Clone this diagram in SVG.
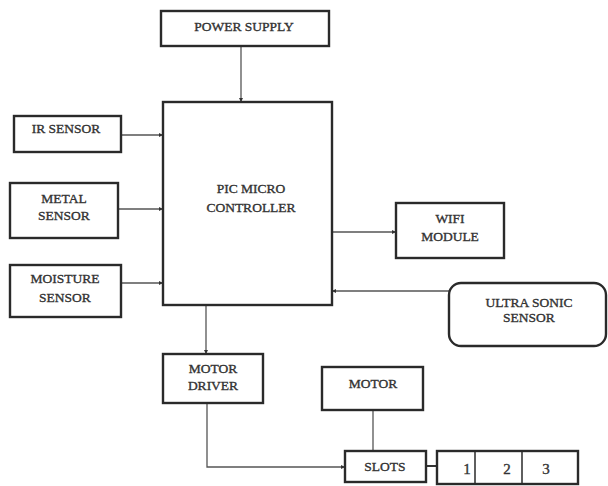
<svg xmlns="http://www.w3.org/2000/svg" width="608" height="486" viewBox="0 0 608 486">
<style>
.box{fill:#fff;stroke:#2a2a2a;stroke-width:2.4}
.t{font-family:"Liberation Serif","Times New Roman",serif;font-size:13.5px;fill:#333;stroke:#333;stroke-width:0.35;text-anchor:middle}
.n{font-size:15px}
.c{fill:none;stroke:#555;stroke-width:1.3}
</style>
<defs>
<marker id="a" viewBox="0 0 6 6" refX="6" refY="3" markerWidth="4" markerHeight="4" orient="auto" markerUnits="userSpaceOnUse">
<path d="M0,0 L6,3 L0,6 Z" fill="#333"/>
</marker>
</defs>
<rect width="608" height="486" fill="#fff"/>
<g id="connectors">
<line class="c" x1="241" y1="46" x2="241" y2="102" marker-end="url(#a)"/>
<line class="c" x1="121" y1="135" x2="163" y2="135" marker-end="url(#a)"/>
<line class="c" x1="118" y1="209" x2="163" y2="209" marker-end="url(#a)"/>
<line class="c" x1="121" y1="283" x2="163" y2="283" marker-end="url(#a)"/>
<line class="c" x1="332" y1="232" x2="396" y2="232" marker-end="url(#a)"/>
<line class="c" x1="449" y1="291" x2="332" y2="291" marker-end="url(#a)"/>
<line class="c" x1="206" y1="305" x2="206" y2="354" marker-end="url(#a)"/>
<polyline class="c" points="207,404 207,467 345,467" marker-end="url(#a)"/>
<line class="c" x1="373" y1="410" x2="373" y2="451"/>
<line x1="426" y1="466" x2="437" y2="466" stroke="#333" stroke-width="2"/>
</g>
<g id="power"><rect class="box" x="161" y="11" width="168" height="35"/><text class="t" x="244" y="31">POWER SUPPLY</text></g>
<g id="pic"><rect class="box" x="163" y="102" width="169" height="203"/><text class="t" x="251" y="193">PIC MICRO</text><text class="t" x="251" y="212">CONTROLLER</text></g>
<g id="ir"><rect class="box" x="14" y="116" width="107" height="36"/><text class="t" x="66" y="133">IR SENSOR</text></g>
<g id="metal"><rect class="box" x="10" y="183" width="108" height="55"/><text class="t" x="64" y="203">METAL</text><text class="t" x="64" y="220">SENSOR</text></g>
<g id="moisture"><rect class="box" x="10" y="265" width="111" height="52"/><text class="t" x="65" y="283">MOISTURE</text><text class="t" x="65" y="302">SENSOR</text></g>
<g id="wifi"><rect class="box" x="396" y="203" width="108" height="55"/><text class="t" x="450" y="223">WIFI</text><text class="t" x="450" y="241">MODULE</text></g>
<g id="ultra"><rect class="box" x="449" y="283" width="157" height="63" rx="12"/><text class="t" x="529" y="307">ULTRA SONIC</text><text class="t" x="529" y="322">SENSOR</text></g>
<g id="driver"><rect class="box" x="163" y="354" width="100" height="49"/><text class="t" x="213" y="373">MOTOR</text><text class="t" x="213" y="390">DRIVER</text></g>
<g id="motor"><rect class="box" x="322" y="367" width="101" height="43"/><text class="t" x="373" y="388">MOTOR</text></g>
<g id="slots"><rect class="box" x="345" y="451" width="81" height="31"/><text class="t" x="385" y="471">SLOTS</text></g>
<g id="numbers"><rect class="box" x="437" y="451" width="141" height="33"/><line x1="475" y1="451" x2="475" y2="484" stroke="#2a2a2a" stroke-width="1.5"/><line x1="522" y1="451" x2="522" y2="484" stroke="#2a2a2a" stroke-width="1.5"/><text class="t n" x="467" y="474">1</text><text class="t n" x="507" y="474">2</text><text class="t n" x="546" y="474">3</text></g>
</svg>
